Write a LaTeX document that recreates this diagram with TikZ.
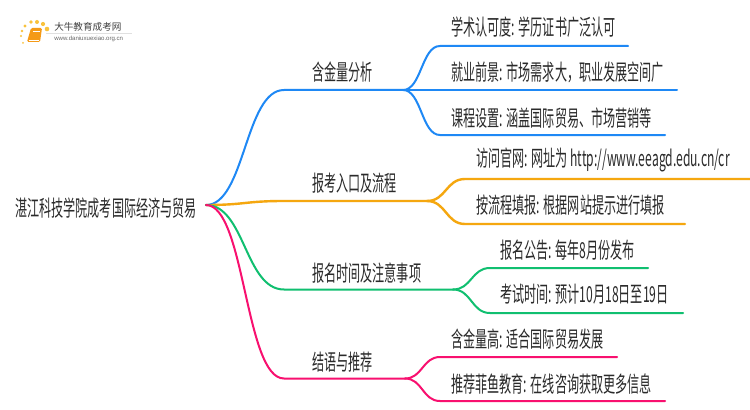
\documentclass[tikz,border=0pt]{standalone}
\usepackage{fontspec}
\setmainfont{Noto Sans CJK SC}[FakeStretch=0.55]
\newfontfamily\logof{Noto Sans CJK SC}
\newfontfamily\latinf{Liberation Sans}
\usetikzlibrary{calc}
\definecolor{cblue}{HTML}{1E88F5}
\definecolor{corange}{HTML}{F5A70F}
\definecolor{cgreen}{HTML}{10BF70}
\definecolor{cpink}{HTML}{F8106F}
\definecolor{ctext}{HTML}{2A2A2A}
\definecolor{cdot}{HTML}{F9C23C}
\definecolor{cbook}{HTML}{F59A16}
\tikzset{
 x=0.75pt,y=-0.75pt,
 txt/.style={anchor=west,inner sep=0pt,text=ctext,font=\fontsize{16.5pt}{18pt}\selectfont},
 branch/.style={line width=1.5pt,line cap=round},
 twig/.style={line width=1.5pt,line cap=round},
}
\newcommand{\forkline}[4]{% style, from, to-start, to-end
 \draw[#1] (#2) .. controls ($(#2)!.5!(#3 |- #2)$) and ($(#3)!.5!(#2 |- #3)$) .. (#3) -- (#4);}
\begin{document}
\begin{tikzpicture}
\useasboundingbox (0,0) rectangle (750,410);
\fill[white] (0,0) rectangle (750,410);
% logo
\foreach \a/\b/\r in {21/36/1.2,22/31/1.3,23/43/1,25/26/1.6,31/22/1.9,37/22/2,43/24/2.1,47/29/2.3}{\fill[cdot] (\a,\b) circle (\r);}
\fill[cbook,rounded corners=1pt] (31,28) -- (42,28) -- (40,42) -- (27,42) -- cycle;
\draw[white,line width=.4pt] (33,31) -- (40,31);
\draw[white,line width=.3pt] (28.5,40) -- (39,40);
\node[inner sep=0pt,anchor=west,text=black!75,font=\logof\fontsize{7.2pt}{8pt}\selectfont] (logoa) at (54,27) {大牛教育成考网};
\node[inner sep=0pt,anchor=west,text=black!60,font=\latinf\fontsize{4.55pt}{5pt}\selectfont] (logob) at (54,38.5) {www.daniuxuexiao.org.cn};
\draw[black!12,line width=.4pt] (46,33) -- (132,33);
% nodes
\node[txt] (root) at (15,208) {湛江科技学院成考国际经济与贸易};
\coordinate (o) at (206,205);
\node[txt] (b1) at (312,72) {含金量分析};
\node[txt] (b2) at (312,183) {报考入口及流程};
\node[txt] (b3) at (312,273) {报名时间及注意事项};
\node[txt] (b4) at (312,362) {结语与推荐};
\node[txt] (a1) at (451,27) {学术认可度: 学历证书广泛认可};
\node[txt] (a2) at (451,72) {就业前景: 市场需求大，职业发展空间广};
\node[txt] (a3) at (451,118) {课程设置: 涵盖国际贸易、市场营销等};
\node[txt] (c1) at (476,160) {访问官网: 网址为 http://www.eeagd.edu.cn/cr};
\node[txt] (c2) at (476,205) {按流程填报: 根据网站提示进行填报};
\node[txt] (d1) at (500,250) {报名公告: 每年8月份发布};
\node[txt] (d2) at (500,294) {考试时间: 预计10月18日至19日};
\node[txt] (e1) at (451,339) {含金量高: 适合国际贸易发展};
\node[txt] (e2) at (451,384) {推荐菲鱼教育: 在线咨询获取更多信息};
% coordinates
\coordinate (B1s) at (284,90); \coordinate (B1e) at (403,90);
\coordinate (B2s) at (284,201); \coordinate (B2e) at (427,201);
\coordinate (B3s) at (284,289.5); \coordinate (B3e) at (453,289.5);
\coordinate (B4s) at (284,378.5); \coordinate (B4e) at (405,378.5);
\coordinate (A1s) at (440,46); \coordinate (A1e) at (628,46);
\coordinate (A2e) at (677,90);
\coordinate (A3s) at (440,135); \coordinate (A3e) at (665,135);
\coordinate (C1s) at (465,179); \coordinate (C1e) at (750,179);
\coordinate (C2s) at (465,224); \coordinate (C2e) at (685,224);
\coordinate (D1s) at (490,268); \coordinate (D1e) at (648,268);
\coordinate (D2s) at (490,313); \coordinate (D2e) at (683,313);
\coordinate (E1s) at (440,357); \coordinate (E1e) at (617,357);
\coordinate (E2s) at (440,401); \coordinate (E2e) at (665,401);
% branches
\forkline{branch,cblue}{o}{B1s}{B1e}
\forkline{branch,corange,line width=1.8pt}{o}{B2s}{B2e}
\forkline{branch,cgreen}{o}{B3s}{B3e}
\forkline{branch,cpink}{o}{B4s}{B4e}
\forkline{twig,cblue}{B1e}{A1s}{A1e}
\draw[twig,cblue] (B1e) -- (A2e);
\forkline{twig,cblue}{B1e}{A3s}{A3e}
\forkline{twig,corange,line width=1.8pt}{B2e}{C1s}{C1e}
\forkline{twig,corange,line width=1.8pt}{B2e}{C2s}{C2e}
\forkline{twig,cgreen}{B3e}{D1s}{D1e}
\forkline{twig,cgreen}{B3e}{D2s}{D2e}
\forkline{twig,cpink}{B4e}{E1s}{E1e}
\forkline{twig,cpink}{B4e}{E2s}{E2e}
\end{tikzpicture}
\end{document}
